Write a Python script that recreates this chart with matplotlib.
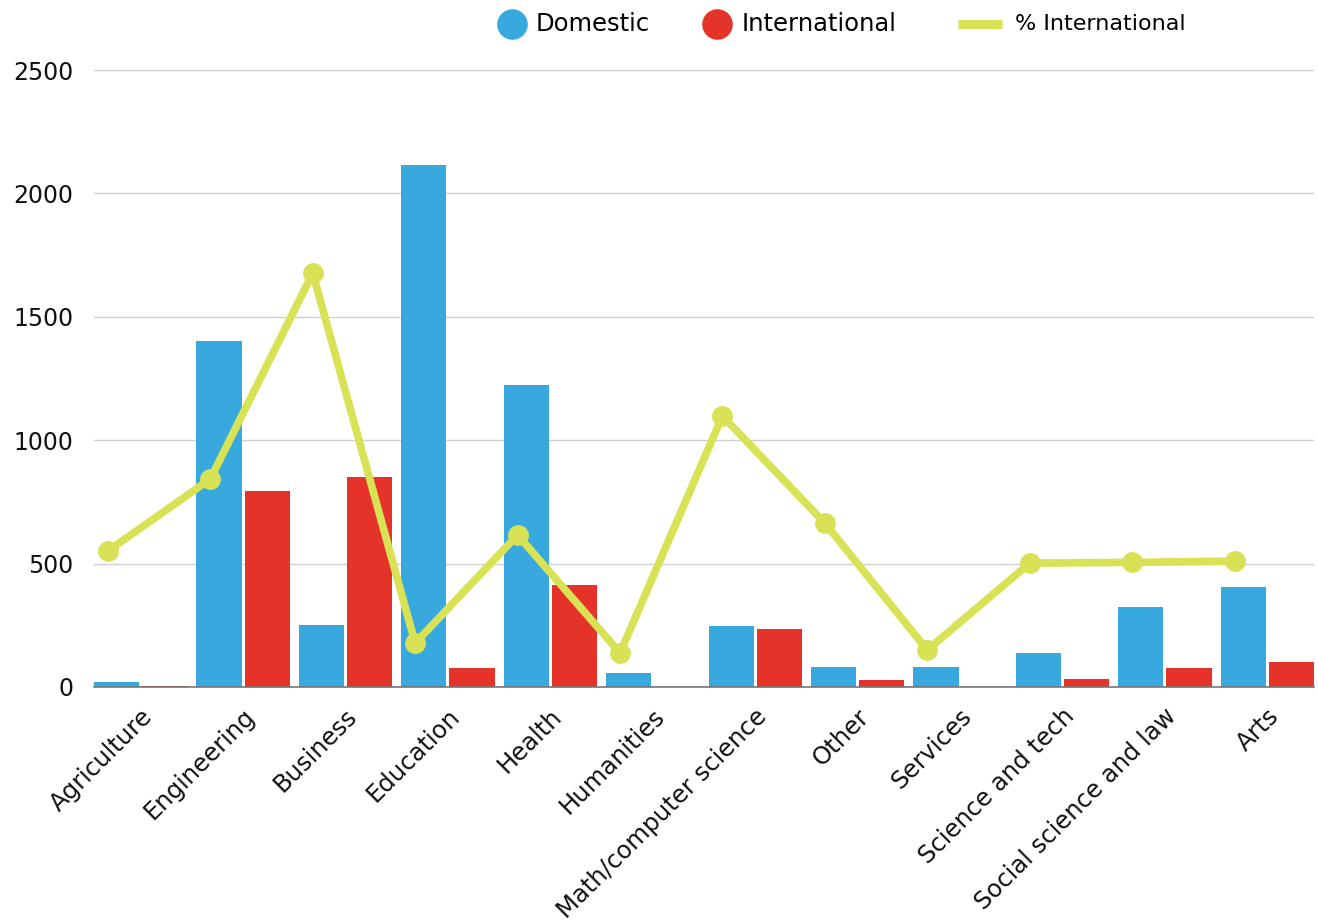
import numpy as np
import matplotlib
matplotlib.use("Agg")
import matplotlib.pyplot as plt
from matplotlib.lines import Line2D
import matplotlib.transforms as mtrans

plt.rcParams["font.family"] = ["DejaVu Sans"]

categories = ["Agriculture", "Engineering", "Business", "Education", "Health",
              "Humanities", "Math/computer science", "Other", "Services",
              "Science and tech", "Social science and law", "Arts"]
domestic = [20, 1400, 250, 2115, 1225, 57, 247, 81, 81, 138, 324, 405]
international = [4, 795, 851, 77, 413, 0, 235, 28, 0, 32, 77, 101]
pct_international = [551, 843, 1677, 178, 616, 138, 1098, 664, 150, 502, 505, 510]
legend_labels = ["Domestic", "International", "% International"]

BLUE = "#38a9df"
RED = "#e5332a"
YELLOW = "#d9e255"

W, H = 1318, 924
fig = plt.figure(figsize=(W / 100, H / 100), dpi=100)
ax = fig.add_axes([0.0713, 0.2565, 0.9257, 0.6677])

x = np.arange(len(categories))
w = 0.44
ax.bar(x - 0.235, domestic, width=w, color=BLUE, zorder=2)
ax.bar(x + 0.235, international, width=w, color=RED, zorder=2)
ax.plot(x - 0.32, pct_international, color=YELLOW, lw=5.5, marker="o",
        markersize=14, zorder=3, clip_on=False)

ax.set_xlim(-0.456, 11.456)
ax.set_ylim(0, 2500)
ax.set_yticks([0, 500, 1000, 1500, 2000, 2500])
ax.grid(axis="y", color="#d0d0d0", lw=1, zorder=0)
for s in ["top", "right", "left"]:
    ax.spines[s].set_visible(False)
ax.spines["bottom"].set_color("#777777")
ax.spines["bottom"].set_linewidth(1.2)
ax.spines["bottom"].set_zorder(4)
ax.tick_params(axis="both", length=0, labelcolor="#111111")
ax.tick_params(axis="y", labelsize=17, pad=15)

ax.set_xticks(x)
ax.set_xticklabels(categories, rotation=45, ha="right", rotation_mode="anchor",
                   fontsize=17.5)
offset = mtrans.ScaledTranslation(0.08, -0.21, fig.dpi_scale_trans)
for lab in ax.get_xticklabels():
    lab.set_transform(lab.get_transform() + offset)
    lab.set_va("center")

# legend drawn by hand in pixel positions
def fx(px):
    return px / W

def fy(py):
    return 1 - py / H

ly = 24
fig.add_artist(Line2D([fx(512)], [fy(ly)], ls="none", marker="o",
                      markersize=21, color=BLUE))
fig.text(fx(536), fy(ly), legend_labels[0], fontsize=17.5, va="center")
fig.add_artist(Line2D([fx(717)], [fy(ly)], ls="none", marker="o",
                      markersize=21, color=RED))
fig.text(fx(742), fy(ly), legend_labels[1], fontsize=17.5, va="center")
fig.add_artist(Line2D([fx(958), fx(1002)], [fy(ly), fy(ly)], color=YELLOW,
                      lw=6.5, solid_capstyle="butt"))
fig.text(fx(1015), fy(ly), legend_labels[2], fontsize=16, va="center")

fig.savefig("out.png", dpi=100)
